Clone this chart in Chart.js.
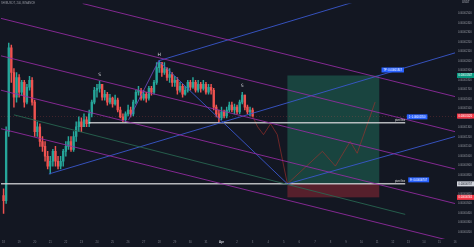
<!DOCTYPE html>
<html>
<head>
<meta charset="utf-8">
<script src="https://cdn.jsdelivr.net/npm/chart.js@4.4.1/dist/chart.umd.min.js"></script>
<style>
  html, body { margin: 0; padding: 0; background: #131722; }
  #wrap { width: 474px; height: 247px; }
</style>
</head>
<body>
<div id="wrap"><canvas id="chart" width="474" height="247"></canvas></div>
<script>
// 4h candles, price in millionths of USDT (25 -> 0.00002500)
const firstOpen = 5.83;
const closes = [
  5.31, 12.56, 21.37, 18.78, 16.19, 18.26, 16.71, 17.75, 15.67, 17.23,
  17.95, 15.67, 12.56, 13.08, 11.53, 11.01, 9.97, 8.94, 9.45, 10.49,
  9.45, 8.94, 9.45, 10.49, 11.01, 11.53, 10.70, 12.05, 13.08, 13.60,
  13.08, 13.81, 13.39, 14.43, 15.67, 16.92, 17.12, 17.54, 16.19, 16.50,
  15.67, 16.09, 15.47, 15.88, 14.84, 14.12, 13.81, 14.43, 14.84, 14.43,
  15.67, 16.71, 16.92, 16.09, 16.50, 16.09, 17.12, 16.71, 17.75, 19.30,
  19.82, 18.78, 19.20, 18.26, 18.57, 17.75, 17.95, 16.92, 17.33, 16.50,
  16.92, 17.75, 17.23, 17.75, 16.92, 17.54, 17.12, 17.54, 16.71, 17.23,
  16.92, 15.15, 14.43, 14.01, 14.64, 14.22, 14.84, 15.36, 14.84, 15.15,
  14.64, 15.67, 16.40, 15.15, 14.64, 14.84, 14.20
];
const highs = [
  6.55, 13.08, 21.89, 21.68, 19.20, 18.78, 18.57, 17.95, 17.95, 17.54,
  18.37, 18.26, 15.88, 13.60, 13.39, 12.05, 11.53, 10.49, 9.97, 10.70,
  11.01, 9.97, 9.97, 10.70, 11.53, 12.05, 12.05, 12.56, 13.60, 14.12,
  14.01, 14.43, 14.12, 14.84, 15.88, 17.23, 17.54, 17.85, 17.33, 16.92,
  16.71, 16.50, 16.19, 16.40, 16.09, 15.15, 14.43, 14.64, 15.36, 15.15,
  15.88, 16.92, 17.33, 17.12, 16.92, 16.71, 17.33, 17.33, 17.95, 19.82,
  20.02, 19.82, 19.82, 19.30, 19.20, 18.78, 18.37, 18.26, 17.75, 17.54,
  17.33, 17.95, 17.95, 18.26, 17.95, 17.95, 17.75, 17.95, 17.75, 17.54,
  17.54, 17.12, 15.36, 14.84, 15.15, 14.84, 15.15, 15.67, 15.67, 15.47,
  15.36, 15.88, 16.71, 16.40, 15.36, 15.15, 15.05
];
const lows = [
  3.96, 5.00, 12.05, 17.75, 15.15, 15.67, 16.19, 16.40, 15.15, 15.47,
  16.92, 15.36, 12.05, 12.05, 11.01, 10.49, 9.45, 8.63, 8.11, 8.94,
  8.94, 8.63, 8.63, 8.94, 9.97, 10.70, 10.49, 10.49, 11.53, 12.56,
  12.56, 13.08, 13.08, 13.08, 14.12, 15.47, 16.19, 16.71, 15.88, 15.88,
  15.36, 15.47, 15.15, 15.36, 14.64, 14.01, 13.60, 13.50, 14.22, 14.12,
  14.22, 15.47, 16.40, 15.88, 15.88, 15.67, 15.88, 16.40, 16.50, 17.54,
  18.78, 18.37, 18.57, 17.95, 17.75, 17.33, 17.33, 16.50, 16.71, 16.19,
  16.40, 16.71, 16.92, 17.12, 16.71, 16.71, 16.71, 16.92, 16.50, 16.50,
  16.50, 14.84, 14.12, 13.50, 13.81, 14.01, 14.01, 14.64, 14.64, 14.43,
  14.43, 14.43, 15.47, 14.84, 14.43, 14.22, 14.10
];

// time axis: one label per day (6 candles)
const xTickIndex = [0, 6, 12, 18, 24, 30, 36, 42, 48, 54, 60, 66, 72, 78, 84,
  90, 96, 102, 108, 114, 120, 126, 132, 138, 144, 150, 156, 162, 168, 174];
const dayLabels = ['18', '19', '20', '21', '22', '23', '24', '25', '26', '27', '28', '29', '30', '31',
  'Apr', '2', '3', '4', '5', '6', '7', '8', '9', '10', '11', '12', '13', '14', '15', '16'];
const yTickValues = [25, 24, 23, 22, 21, 20, 19, 18, 17, 16, 15, 14, 13, 12, 11, 10, 9, 8, 7, 6, 5, 4, 3, 2];

// drawings (candle index, price)
const channelLines = [
  [[30.5, 26.04], [174, 16.25]],
  [[-1, 24.48], [174, 12.56]],
  [[-1, 20.54], [174, 8.63]],
  [[-1, 16.92], [174, 5.00]],
  [[-1, 12.87], [174, 0.96]]
];
const blueLines = [
  [[17.46, 8.11], [174, 20.85]],
  [[109.4, 7.07], [174, 12.05]],
  [[59.8, 20.02], [109.4, 7.07]],
  [[59.8, 20.02], [174, 29.4]]
];
const violetLine = [[48.2, 13.8], [59.8, 20.02]];
const greenLine = [[4, 14.33], [154.8, 3.86]];
const necklineLine = [[32.85, 13.5], [154.8, 13.5]];
const entryLine = [[-1, 7.07], [154.8, 7.07]];
const pathX = [96, 97.9, 100.2, 102.9, 105.5, 109.4, 122.9, 127.9, 133.6, 136.3, 143.2];
const pathY = [14.2, 13.08, 12.25, 13.39, 12.25, 7.07, 10.49, 8.94, 11.53, 10.29, 15.67];

// long position tool
const posRange = [109.4, 144.8];
const targetPrice = 18.47;
const entryPrice = 7.07;
const stopPrice = 5.65;

const patternNames = ['S', 'H', 'S'];
const patternIndex = [37, 60, 92];

const calloutText = ['TP: 0.00001847', '1: 0.00001350', 'E: 0.00000707'];
const calloutX = [150, 159.4, 160];
const calloutY = [19.05, 14.12, 7.49];
const lineNotes = ['pivot line', 'pivot line'];
const lineNoteY = [13.5, 7.07];

const UP = '#26a69a', DOWN = '#ef5350';
const fmt = v => (v / 1e6).toFixed(8);

const opens = closes.map((c, i) => i === 0 ? firstOpen : closes[i - 1]);
const candleColors = closes.map((c, i) => c >= opens[i] ? UP : DOWN);

const seg = (pts, color, width, extra) => Object.assign({
  type: 'line',
  data: pts.map(p => ({ x: p[0], y: p[1] })),
  borderColor: color,
  borderWidth: width,
  pointRadius: 0,
  fill: false,
  tension: 0,
  order: 1
}, extra || {});

const datasets = [
  {
    type: 'bar',
    data: closes.map((c, i) => ({ x: i, y: [lows[i], highs[i]] })),
    backgroundColor: candleColors,
    barThickness: 0.8,
    grouped: false,
    order: 4
  },
  {
    type: 'bar',
    data: closes.map((c, i) => ({ x: i, y: [opens[i], c] })),
    backgroundColor: candleColors,
    barThickness: 1.7,
    minBarLength: 0.6,
    grouped: false,
    order: 3
  }
];
channelLines.forEach(l => datasets.push(seg(l, 'rgba(150,44,165,0.85)', 1)));
datasets.push(seg(greenLine, 'rgba(40,105,82,0.85)', 1));
blueLines.forEach(l => datasets.push(seg(l, 'rgba(58,88,205,0.9)', 1)));
datasets.push(seg(violetLine, 'rgba(110,72,190,0.85)', 1));
datasets.push(seg(necklineLine, 'rgba(210,210,214,0.85)', 1.5));
datasets.push(seg(entryLine, 'rgba(210,210,214,0.85)', 1.5));
datasets.push(seg(pathX.map((x, i) => [x, pathY[i]]), 'rgba(170,48,44,0.75)', 0.8));

const decor = {
  id: 'decor',
  beforeDraw(chart) {
    const c = chart.ctx;
    c.save();
    c.fillStyle = '#131722';
    c.fillRect(0, 0, chart.width, chart.height);
    c.restore();
  },
  beforeDatasetsDraw(chart) {
    const c = chart.ctx, x = chart.scales.x, y = chart.scales.y;
    const x0 = x.getPixelForValue(posRange[0]), x1 = x.getPixelForValue(posRange[1]);
    const yT = y.getPixelForValue(targetPrice), yE = y.getPixelForValue(entryPrice), yS = y.getPixelForValue(stopPrice);
    c.save();
    c.fillStyle = 'rgba(38,160,125,0.33)';
    c.fillRect(x0, yT, x1 - x0, yE - yT);
    c.fillStyle = 'rgba(242,54,69,0.3)';
    c.fillRect(x0, yE, x1 - x0, yS - yE);
    // last price line
    const lastY = y.getPixelForValue(closes[closes.length - 1]);
    c.strokeStyle = 'rgba(239,83,80,0.22)';
    c.setLineDash([1, 2]);
    c.lineWidth = 1;
    c.beginPath();
    c.moveTo(chart.chartArea.left, Math.round(lastY) + 0.5);
    c.lineTo(chart.chartArea.right, Math.round(lastY) + 0.5);
    c.stroke();
    c.restore();
  },
  afterDraw(chart) {
    const c = chart.ctx, x = chart.scales.x, y = chart.scales.y;
    const area = chart.chartArea;
    c.save();
    // pattern letters
    c.font = '4.5px "DejaVu Sans"';
    c.textAlign = 'center';
    c.textBaseline = 'bottom';
    c.fillStyle = '#d6d6dc';
    patternIndex.forEach((idx, k) => {
      c.fillText(patternNames[k], x.getPixelForValue(idx), y.getPixelForValue(highs[idx]) - 4);
    });
    // line notes
    c.font = '2.6px "Liberation Sans"';
    c.textAlign = 'right';
    c.textBaseline = 'bottom';
    c.fillStyle = '#e0e0e0';
    lineNoteY.forEach((v, k) => {
      c.fillText(lineNotes[k], x.getPixelForValue(154.8), y.getPixelForValue(v) - 1);
    });
    // callouts
    c.textAlign = 'center';
    c.textBaseline = 'middle';
    calloutText.forEach((t, k) => {
      const cx = x.getPixelForValue(calloutX[k]), cy = y.getPixelForValue(calloutY[k]);
      const w = c.measureText(t).width + 4;
      c.fillStyle = '#2962ff';
      c.fillRect(cx - w / 2, cy - 2.5, w, 5);
      c.fillStyle = '#ffffff';
      c.fillText(t, cx, cy + 0.2);
    });
    // axis tags
    const tags = [
      [targetPrice, '#089981', '#ffffff'],
      [closes[closes.length - 1], '#f23645', '#ffffff'],
      [entryPrice, '#d1d4dc', '#131722'],
      [stopPrice, '#f23645', '#ffffff']
    ];
    c.textAlign = 'left';
    tags.forEach(t => {
      const ty = y.getPixelForValue(t[0]);
      c.fillStyle = t[1];
      c.fillRect(area.right + 1, ty - 2.5, chart.width - area.right - 1, 5);
      c.fillStyle = t[2];
      c.fillText(fmt(t[0]), area.right + 2.5, ty + 0.2);
    });
    // headers
    c.fillStyle = '#b2b5be';
    c.font = '2.8px "Liberation Sans"';
    c.textBaseline = 'top';
    c.fillText('USDT', area.right + 6, 1);
    c.fillStyle = '#9598a1';
    c.fillText('SHIBUSDT, 240, BINANCE', 1, 1.5);
    c.restore();
  }
};

new Chart(document.getElementById('chart').getContext('2d'), {
  type: 'bar',
  data: { datasets },
  options: {
    responsive: false,
    animation: false,
    devicePixelRatio: 1,
    layout: { padding: 0 },
    plugins: { legend: { display: false }, tooltip: { enabled: false } },
    scales: {
      x: {
        type: 'linear',
        min: -1,
        max: 174.38,
        offset: false,
        grid: { display: false, drawTicks: false, tickLength: 0 },
        border: { display: false },
        afterBuildTicks: s => { s.ticks = xTickIndex.map(v => ({ value: v })); },
        afterFit: s => { s.height = 8; },
        ticks: {
          autoSkip: false,
          maxRotation: 0,
          padding: 2,
          color: c => c.index === 14 ? '#d1d4dc' : '#787b86',
          font: c => ({ family: 'Liberation Sans', size: 2.8, weight: c.index === 14 ? 'bold' : 'normal' }),
          callback: (v, i) => dayLabels[i]
        }
      },
      y: {
        position: 'right',
        min: 1.27,
        max: 26.036,
        grid: { display: false, drawTicks: false, tickLength: 0 },
        border: { display: false },
        afterBuildTicks: s => { s.ticks = yTickValues.map(v => ({ value: v })); },
        afterFit: s => { s.width = 18; },
        ticks: {
          padding: 2,
          color: '#9598a1',
          font: { family: 'Liberation Sans', size: 2.6 },
          callback: v => fmt(v)
        }
      }
    }
  },
  plugins: [decor]
});
</script>
</body>
</html>
